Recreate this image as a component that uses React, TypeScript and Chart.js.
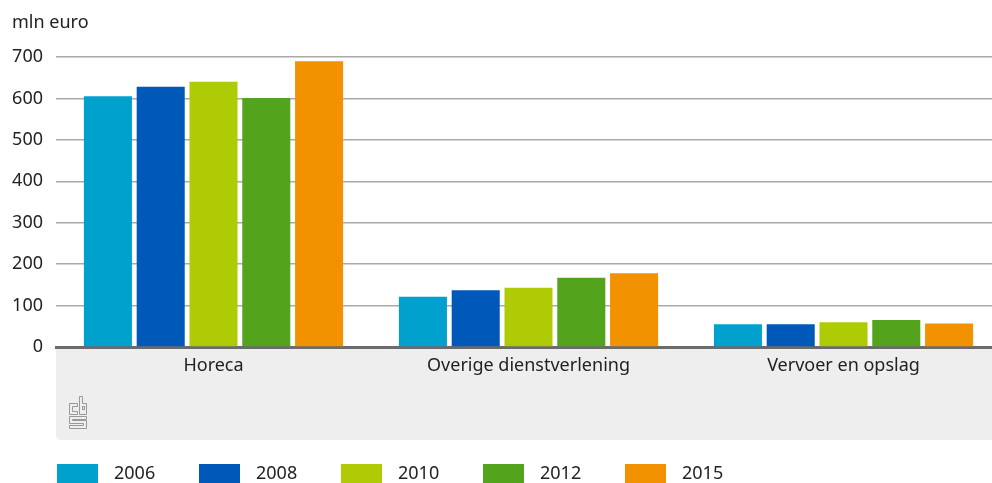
import React, { useEffect, useRef } from "react";
import { Chart, registerables } from "chart.js";

Chart.register(...registerables);

const categories = ["Horeca", "Overige dienstverlening", "Vervoer en opslag"];
const years = ["2006", "2008", "2010", "2012", "2015"];
const colors = ["#00a1cd", "#0058b8", "#afcb05", "#53a31d", "#f39200"];
const values2006 = [605, 121, 55];
const values2008 = [628, 137, 55];
const values2010 = [640, 143, 60];
const values2012 = [601, 167, 65];
const values2015 = [690, 178, 57];
const yTicks = [0, 100, 200, 300, 400, 500, 600, 700];
const unitLabel = "mln euro";

const FONT = "'Noto Sans', sans-serif";
const FS = 18;
const TEXT = "#222222";

function poly(ctx: any, pts: number[][]) {
  ctx.beginPath();
  pts.forEach((p, i) => (i === 0 ? ctx.moveTo(p[0], p[1]) : ctx.lineTo(p[0], p[1])));
  ctx.closePath();
  ctx.stroke();
}

const backgroundPlugin = {
  id: "bgArea",
  beforeDraw(chart: any) {
    const { ctx, chartArea } = chart;
    const left = chartArea.left;
    const top = chartArea.bottom;
    const right = chart.width;
    const bottom = 440;
    const r = 5;
    ctx.save();
    ctx.fillStyle = "#eeeeee";
    ctx.beginPath();
    ctx.moveTo(left, top);
    ctx.lineTo(right, top);
    ctx.lineTo(right, bottom);
    ctx.lineTo(left + r, bottom);
    ctx.quadraticCurveTo(left, bottom, left, bottom - r);
    ctx.closePath();
    ctx.fill();

    // CBS logo (simplified outline)
    ctx.strokeStyle = "#999999";
    ctx.lineWidth = 1;
    ctx.lineJoin = "miter";
    const o = 0.5;
    // c
    poly(ctx, [
      [77 + o, 403 + o], [69 + o, 403 + o], [69 + o, 414 + o], [77 + o, 414 + o],
      [77 + o, 411 + o], [72 + o, 411 + o], [72 + o, 406 + o], [77 + o, 406 + o],
    ]);
    // b
    poly(ctx, [
      [79 + o, 396 + o], [82 + o, 396 + o], [82 + o, 403 + o], [86 + o, 403 + o],
      [86 + o, 414 + o], [79 + o, 414 + o],
    ]);
    ctx.strokeRect(82 + o, 406 + o, 2, 3);
    // s
    poly(ctx, [
      [86 + o, 416 + o], [69 + o, 416 + o], [69 + o, 423 + o], [83 + o, 423 + o],
      [83 + o, 425 + o], [69 + o, 425 + o], [69 + o, 428 + o], [86 + o, 428 + o],
      [86 + o, 420 + o], [72 + o, 420 + o], [72 + o, 419 + o], [86 + o, 419 + o],
    ]);
    ctx.restore();
  },
  afterDraw(chart: any) {
    const { ctx } = chart;
    ctx.save();
    ctx.font = `${FS}px ${FONT}`;
    ctx.fillStyle = TEXT;
    ctx.textBaseline = "alphabetic";
    ctx.textAlign = "left";
    ctx.fillText(unitLabel, 12, 28);
    ctx.textBaseline = "middle";
    chart.data.datasets.forEach((ds: any, i: number) => {
      const x = 57 + i * 142;
      ctx.fillStyle = ds.backgroundColor;
      ctx.fillRect(x, 464, 41, 19);
      ctx.fillStyle = TEXT;
      ctx.fillText(ds.label, x + 57, 473.5);
    });
    ctx.restore();
  },
};

export default function App() {
  const ref = useRef<HTMLCanvasElement | null>(null);

  useEffect(() => {
    document.body.style.margin = "0";
    const series = [values2006, values2008, values2010, values2012, values2015];
    const chart = new Chart(ref.current as HTMLCanvasElement, {
      type: "bar",
      data: {
        datasets: years.map((y, i) => ({
          label: y,
          data: series[i].map((v, j) => ({ x: j, y: v })),
          backgroundColor: colors[i],
          borderWidth: 0,
          categoryPercentage: 0.838,
          barPercentage: 0.91,
        })),
      },
      options: {
        animation: false,
        responsive: false,
        maintainAspectRatio: false,
        layout: { padding: { top: 57, left: 0, right: 0, bottom: 0 } },
        plugins: {
          legend: { display: false },
          tooltip: { enabled: false },
          title: { display: false },
        },
        scales: {
          x: {
            type: "linear",
            offset: false,
            min: -0.5,
            max: -0.5 + 936 / 315,
            z: 1,
            grid: { display: false, drawTicks: false, offset: false },
            border: { display: true, color: "#6b6b6b", width: 3 },
            afterBuildTicks: (scale: any) => {
              scale.ticks = categories.map((_, i) => ({ value: i }));
            },
            afterFit: (scale: any) => {
              scale.height = 136;
            },
            ticks: {
              autoSkip: false,
              maxRotation: 0,
              padding: 8,
              color: TEXT,
              font: { family: FONT, size: FS },
              callback: (v: any) => categories[v as number] ?? "",
            },
          },
          y: {
            min: 0,
            max: 700,
            afterBuildTicks: (scale: any) => {
              scale.ticks = yTicks.map((v) => ({ value: v }));
            },
            afterFit: (scale: any) => {
              scale.width = 56;
            },
            grid: { color: "#aaaaaa", lineWidth: 1.5, drawTicks: false },
            border: { display: false },
            ticks: {
              padding: 13,
              color: TEXT,
              font: { family: FONT, size: FS },
            },
          },
        },
      } as any,
      plugins: [backgroundPlugin],
    });
    return () => chart.destroy();
  }, []);

  return (
    <div style={{ width: 992, height: 483 }}>
      <canvas ref={ref} width={992} height={483} style={{ display: "block" }} />
    </div>
  );
}
